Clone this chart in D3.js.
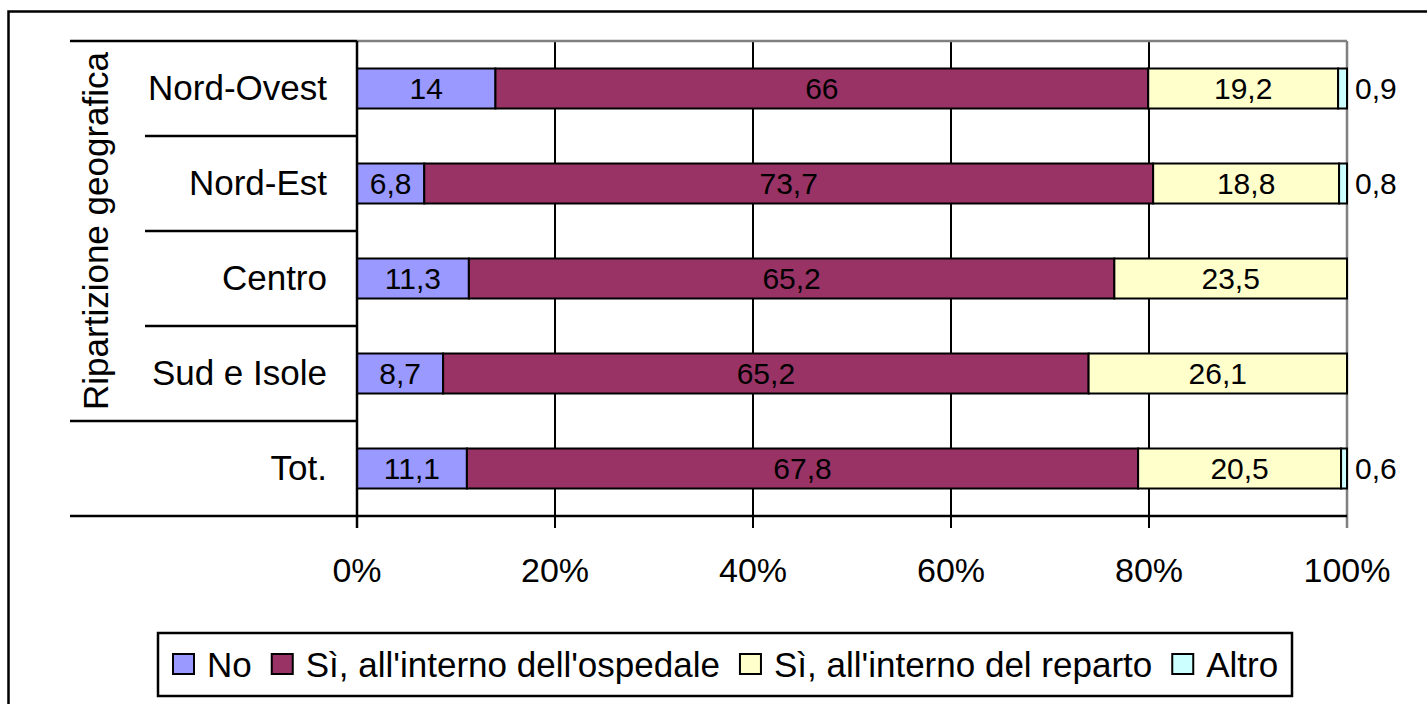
<!DOCTYPE html>
<html><head><meta charset="utf-8">
<script src="https://cdn.jsdelivr.net/npm/d3@7"></script>
<style>
html,body{margin:0;padding:0;background:#fff;}
text{font-family:"Liberation Sans",Arial,sans-serif;fill:#000;}
</style></head>
<body>
<svg id="chart" width="1427" height="704"></svg>
<script>
const categories = ["Nord-Ovest", "Nord-Est", "Centro", "Sud e Isole", "Tot."];
const groupLabel = "Ripartizione geografica";
const seriesNames = ["No", "Sì, all'interno dell'ospedale", "Sì, all'interno del reparto", "Altro"];
const seriesNo = [14, 6.8, 11.3, 8.7, 11.1];
const seriesOspedale = [66, 73.7, 65.2, 65.2, 67.8];
const seriesReparto = [19.2, 18.8, 23.5, 26.1, 20.5];
const seriesAltro = [0.9, 0.8, 0, 0, 0.6];
const xTicks = [0, 20, 40, 60, 80, 100];
const colors = ["#9999FF", "#993366", "#FFFFCC", "#CCFFFF"];

(function () {
const series = [seriesNo, seriesOspedale, seriesReparto, seriesAltro];
const svg = d3.select("#chart");

// outer border
svg.append("rect").attr("x", 8.5).attr("y", 11.5).attr("width", 1420).attr("height", 710)
  .attr("fill", "none").attr("stroke", "#000").attr("stroke-width", 2.5);

const pL = 357, pR = 1347, pT = 41, pB = 516;
const x = d3.scaleLinear().domain([0, 100]).range([pL, pR]);
const y = d3.scaleBand().domain(categories).range([pT, pB]).paddingInner(0.579).paddingOuter(0.2895);

// gridlines
const g = svg.append("g");
xTicks.forEach(t => {
  g.append("line").attr("x1", x(t)).attr("x2", x(t)).attr("y1", pT).attr("y2", pB + 12)
    .attr("stroke", t === 100 ? "#808080" : "#000").attr("stroke-width", t === 100 ? 2.5 : 2);
});
g.append("line").attr("x1", pL).attr("x2", pR).attr("y1", pT).attr("y2", pT)
  .attr("stroke", "#808080").attr("stroke-width", 2.5);

// stacked data
const rows = categories.map((c, i) => {
  const vals = series.map(s => s[i]);
  const total = d3.sum(vals);
  let acc = 0;
  return vals.map((v, k) => {
    const s0 = acc / total * 100; acc += v;
    return {cat: c, k, v, x0: s0, x1: acc / total * 100};
  });
});

const fmt = v => String(v).replace(".", ",");
const labels = svg.append("g").style("font-size", "30px");
// Altro labels drawn before bars (partly hidden by bar edge, as in original)
rows.forEach(r => r.forEach(d => {
  if (d.v <= 0 || d.k !== 3) return;
  const cy = y(d.cat) + y.bandwidth() / 2;
  labels.append("text").attr("x", x(100) + 8).attr("y", cy).attr("dy", "0.35em")
    .attr("text-anchor", "start").text(fmt(d.v));
}));

const bars = svg.append("g");
rows.forEach(r => r.forEach(d => {
  if (d.v <= 0) return;
  bars.append("rect").attr("x", x(d.x0)).attr("y", y(d.cat))
    .attr("width", x(d.x1) - x(d.x0)).attr("height", y.bandwidth())
    .attr("fill", colors[d.k]).attr("stroke", "#000").attr("stroke-width", 2);
}));

const labels2 = svg.append("g").style("font-size", "30px");
rows.forEach(r => r.forEach(d => {
  if (d.v <= 0 || d.k === 3) return;
  const cy = y(d.cat) + y.bandwidth() / 2;
  labels2.append("text").attr("x", (x(d.x0) + x(d.x1)) / 2).attr("y", cy).attr("dy", "0.35em")
    .attr("text-anchor", "middle").text(fmt(d.v));
}));

// category axis
const ax = svg.append("g");
ax.append("line").attr("x1", pL).attr("x2", pL).attr("y1", pT).attr("y2", pB + 12)
  .attr("stroke", "#000").attr("stroke-width", 2.5);
const step = y.step();
const seps = d3.range(categories.length + 1).map(i => pT + i * step);
seps.forEach((sy, i) => {
  const outer = (i === 0 || i >= 4);
  ax.append("line").attr("x1", outer ? 70 : 145).attr("x2", pL).attr("y1", sy).attr("y2", sy)
    .attr("stroke", "#000").attr("stroke-width", 2.5);
});
ax.append("line").attr("x1", pL).attr("x2", pR).attr("y1", pB).attr("y2", pB)
  .attr("stroke", "#000").attr("stroke-width", 2.5);

categories.forEach(c => {
  ax.append("text").attr("x", 327).attr("y", y(c) + y.bandwidth() / 2).attr("dy", "0.33em")
    .attr("text-anchor", "end").style("font-size", "35px").text(c);
});
ax.append("text").attr("transform", `translate(96,${(seps[0] + seps[4]) / 2}) rotate(-90)`)
  .attr("text-anchor", "middle").attr("dy", "0.35em").style("font-size", "35px").text(groupLabel);

xTicks.forEach(t => {
  ax.append("text").attr("x", x(t)).attr("y", 570).attr("dy", "0.35em")
    .attr("text-anchor", "middle").style("font-size", "34px").text(t + "%");
});

// legend
const lg = svg.append("g");
lg.append("rect").attr("x", 158).attr("y", 633).attr("width", 1134).attr("height", 63)
  .attr("fill", "#fff").attr("stroke", "#000").attr("stroke-width", 2.5);
let cx = 173;
seriesNames.forEach((n, k) => {
  const item = lg.append("g");
  item.append("rect").attr("x", cx).attr("y", 654).attr("width", 21).attr("height", 20)
    .attr("fill", colors[k]).attr("stroke", "#000").attr("stroke-width", 2);
  const tx = item.append("text").attr("x", cx + 34).attr("y", 665).attr("dy", "0.35em")
    .style("font-size", "35px").text(n);
  cx = cx + 34 + tx.node().getComputedTextLength() + 20;
});
})();
</script>
</body></html>
